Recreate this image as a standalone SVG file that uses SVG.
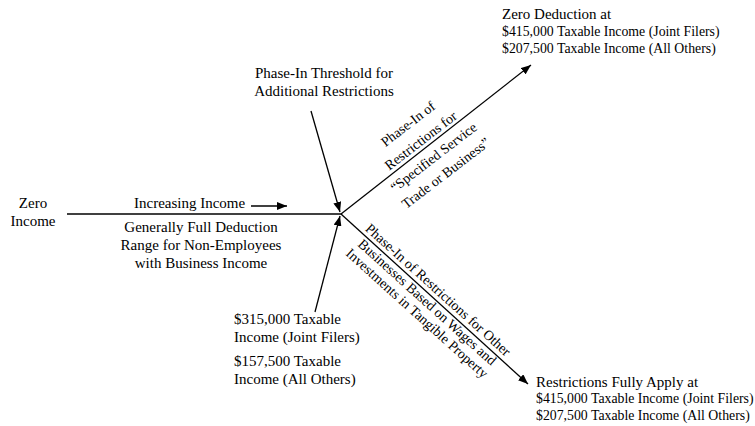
<svg xmlns="http://www.w3.org/2000/svg" width="755" height="426" viewBox="0 0 755 426">
<style>
text{font-family:"Liberation Serif","Times New Roman",serif;fill:#000}
.l{font-size:15px}
.s{font-size:13.8px}
.r{font-size:14px}
.m{text-anchor:middle}
.ln{stroke:#000;stroke-width:1.3;fill:none}
</style>
<defs>
<marker id="ah" viewBox="0 0 10 8" refX="10" refY="4" markerWidth="10" markerHeight="8" markerUnits="userSpaceOnUse" orient="auto">
<path d="M0,0L10,4L0,8z" fill="#000"/>
</marker>
</defs>
<rect width="755" height="426" fill="#fff"/>
<g id="connectors">
<line class="ln" x1="67" y1="214" x2="341" y2="214"/>
<line class="ln" x1="341" y1="214" x2="531" y2="65" marker-end="url(#ah)"/>
<line class="ln" x1="341" y1="214" x2="528" y2="384" marker-end="url(#ah)"/>
<line class="ln" x1="311" y1="111" x2="340" y2="212" marker-end="url(#ah)"/>
<line class="ln" x1="315" y1="312" x2="340" y2="216" marker-end="url(#ah)"/>
<line class="ln" x1="251" y1="206" x2="287" y2="206" marker-end="url(#ah)"/>
</g>
<g id="zero-income">
<text class="l m" x="33" y="208">Zero</text>
<text class="l m" x="33" y="226">Income</text>
</g>
<g id="increasing-income">
<text class="l" x="134" y="208">Increasing Income</text>
</g>
<g id="full-deduction">
<text class="l m" x="201" y="232">Generally Full Deduction</text>
<text class="l m" x="201" y="250">Range for Non-Employees</text>
<text class="l m" x="201" y="268">with Business Income</text>
</g>
<g id="threshold">
<text class="l m" x="324" y="78">Phase-In Threshold for</text>
<text class="l m" x="324" y="96">Additional Restrictions</text>
</g>
<g id="threshold-amounts">
<text class="l" x="234" y="324">$315,000 Taxable</text>
<text class="l" x="234" y="342">Income (Joint Filers)</text>
<text class="l" x="234" y="366">$157,500 Taxable</text>
<text class="l" x="234" y="384">Income (All Others)</text>
</g>
<g id="zero-deduction">
<text class="l" x="502" y="19">Zero Deduction at</text>
<text class="s" x="502" y="36">$415,000 Taxable Income (Joint Filers)</text>
<text class="s" x="502" y="53">$207,500 Taxable Income (All Others)</text>
</g>
<g id="fully-apply">
<text class="l" x="536" y="387">Restrictions Fully Apply at</text>
<text class="s" x="536" y="403">$415,000 Taxable Income (Joint Filers)</text>
<text class="s" x="536" y="420">$207,500 Taxable Income (All Others)</text>
</g>
<g id="sstb-label" transform="translate(341,214) rotate(-37.5)">
<text class="r m" x="108" y="-26">Phase-In of</text>
<text class="r m" x="108" y="-5">Restrictions for</text>
<text class="r m" x="108" y="16">“Specified Service</text>
<text class="r m" x="108" y="36">Trade or Business”</text>
</g>
<g id="other-label" transform="translate(341,214) rotate(42)">
<text class="r m" x="123" y="-4">Phase-In of Restrictions for Other</text>
<text class="r m" x="123" y="12.5">Businesses Based on Wages and</text>
<text class="r m" x="123" y="27.5">Investments in Tangible Property</text>
</g>
</svg>
